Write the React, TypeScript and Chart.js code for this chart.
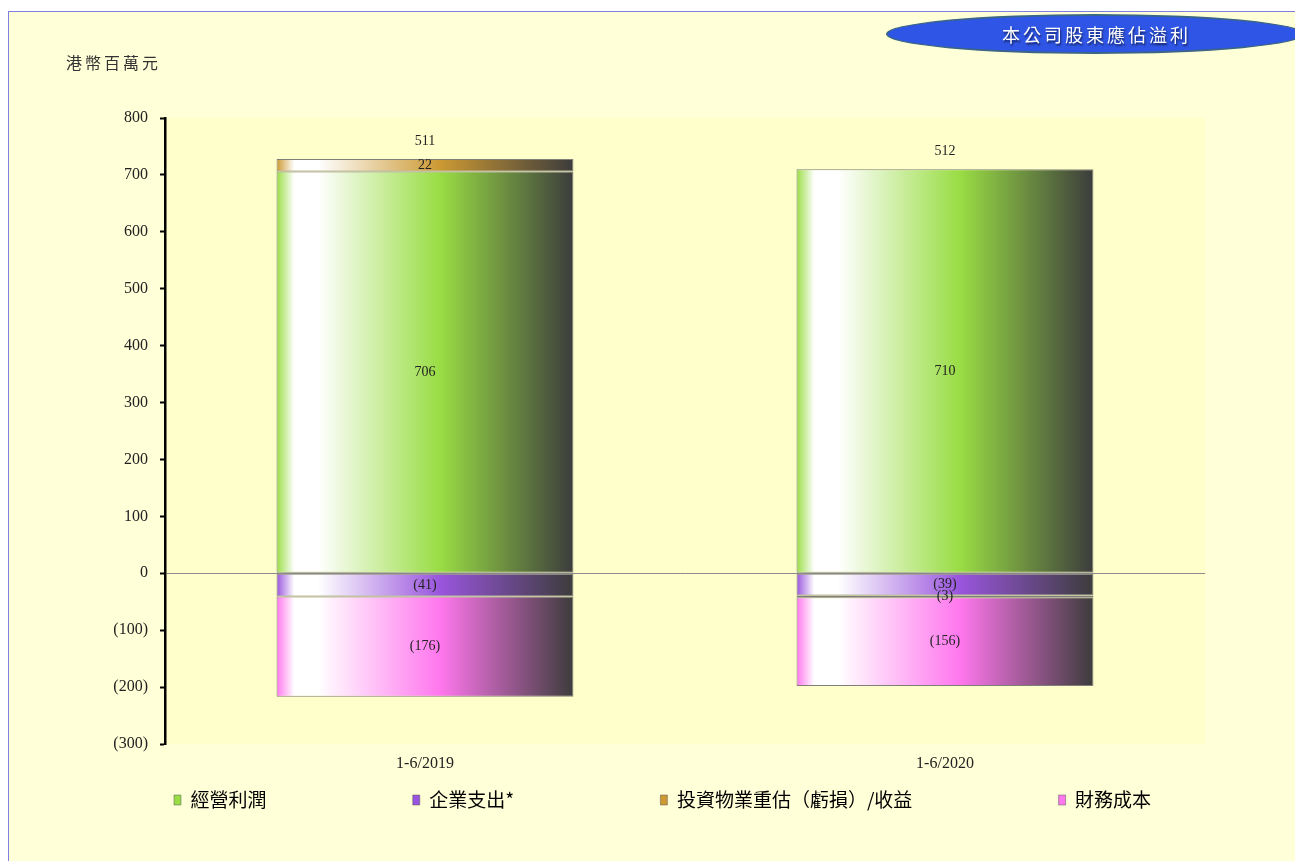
import React, { useEffect, useRef } from 'react';
import { Chart, registerables } from 'chart.js';

Chart.register(...registerables);

// ---------- data ----------
const categories = ['1-6/2019', '1-6/2020'];
const seriesNames = ['經營利潤', '企業支出*', '投資物業重估（虧損）/收益', '財務成本'];
const operatingProfit = [706, 710];
const corporateExpenses = [-41, -39];
const propertyRevaluation = [22, -3];
const financeCosts = [-176, -156];
const totals = [511, 512];
const yMin = -300;
const yMax = 800;
const yStep = 100;
const unitLabel = '港幣百萬元';
const titleText = '本公司股東應佔溢利';

// ---------- styles ----------
const seriesColors = ['#99DD44', '#9955DD', '#CC9933', '#FF77EE'];
const OUTER_BG = '#FFFFD8';
const PLOT_BG = '#FFFFCC';
const SERIF = '"Liberation Serif", "Times New Roman", serif';
const CJK = '"Noto Sans CJK TC", "Noto Sans CJK SC", sans-serif';
const BAR_PCT = 0.571;
const LEGEND_GAP = '\u3000'.repeat(7) + ' ';

const fmt = (v: number) => (v < 0 ? `(${Math.abs(v)})` : `${v}`);

function barGradient(c: any, base: string) {
  const chart = c.chart;
  const xs = chart.scales && chart.scales.x;
  if (c.type !== 'data' || !xs || !chart.chartArea || !isFinite(xs.width)) return base;
  const center = xs.getPixelForValue(c.dataIndex);
  const half = ((xs.width / categories.length) * BAR_PCT) / 2;
  if (!isFinite(center) || !isFinite(half) || half <= 0) return base;
  const g = chart.ctx.createLinearGradient(center - half, 0, center + half, 0);
  g.addColorStop(0, base);
  g.addColorStop(0.06, '#ffffff');
  g.addColorStop(0.14, '#ffffff');
  g.addColorStop(0.55, base);
  g.addColorStop(1, '#3c3c3c');
  return g;
}

const plotBg = {
  id: 'plotBg',
  beforeDraw(chart: any) {
    const { ctx, chartArea: a } = chart;
    if (!a) return;
    ctx.save();
    ctx.fillStyle = PLOT_BG;
    ctx.fillRect(a.left, a.top, a.right - a.left, a.bottom - a.top);
    ctx.restore();
  },
};

const valueLabels = {
  id: 'valueLabels',
  afterDatasetsDraw(chart: any) {
    const ctx = chart.ctx;
    ctx.save();
    ctx.font = `14px ${SERIF}`;
    ctx.fillStyle = '#222';
    ctx.textAlign = 'center';
    ctx.textBaseline = 'middle';
    const tops: number[] = categories.map(() => Infinity);
    chart.data.datasets.forEach((ds: any, i: number) => {
      const meta = chart.getDatasetMeta(i);
      meta.data.forEach((el: any, j: number) => {
        const v = ds.data[j];
        const p = el.getProps(['x', 'y', 'base'], true);
        if (v > 0) tops[j] = Math.min(tops[j], p.y);
        ctx.fillText(fmt(v), p.x, (p.y + p.base) / 2);
      });
    });
    const meta0 = chart.getDatasetMeta(0);
    totals.forEach((t, j) => {
      const el = meta0.data[j];
      if (!el) return;
      ctx.fillText(fmt(t), el.x, tops[j] - 18);
    });
    ctx.restore();
  },
};

export default function App() {
  const ref = useRef<HTMLCanvasElement>(null);

  useEffect(() => {
    const canvas = ref.current;
    if (!canvas) return;
    const seriesData = [operatingProfit, corporateExpenses, propertyRevaluation, financeCosts];
    const datasets = seriesData.map((data, i) => ({
      label: seriesNames[i],
      data,
      backgroundColor: (c: any) => barGradient(c, seriesColors[i]),
      borderColor: 'rgba(105,105,105,0.85)',
      borderWidth: 1,
      borderSkipped: false,
      stack: 's',
      barPercentage: BAR_PCT,
      categoryPercentage: 1,
    }));

    const chart = new Chart(canvas, {
      type: 'bar',
      data: { labels: categories, datasets },
      options: {
        responsive: false,
        animation: false,
        devicePixelRatio: 1,
        layout: { padding: { left: 86, right: 90, top: 106, bottom: 41.5 } },
        scales: {
          x: {
            stacked: true,
            grid: { display: false, drawTicks: false },
            border: { display: false },
            ticks: { padding: 10, color: '#222', font: { family: SERIF, size: 16 } },
            afterFit: (s: any) => {
              s.height = 37.5;
            },
          },
          y: {
            stacked: true,
            min: yMin,
            max: yMax,
            ticks: {
              stepSize: yStep,
              padding: 12,
              color: '#222',
              font: { family: SERIF, size: 16 },
              callback: (v: any) => fmt(Number(v)),
            },
            grid: {
              color: (c: any) => (c.tick && c.tick.value === 0 ? '#8c8c8c' : 'rgba(0,0,0,0)'),
              lineWidth: 1,
              tickColor: '#000',
              tickWidth: 2,
              tickLength: 5,
              drawOnChartArea: true,
            },
            border: { color: '#000', width: 2.5 },
            afterFit: (s: any) => {
              s.width = 70;
            },
          },
        },
        plugins: {
          legend: {
            position: 'bottom',
            fullSize: false,
            align: 'start',
            labels: {
              boxWidth: 7,
              boxHeight: 10,
              padding: 9,
              color: '#333',
              font: { family: CJK, size: 19 },
              generateLabels: () =>
                seriesNames.map((name, i) => ({
                  text: i < seriesNames.length - 1 ? name + LEGEND_GAP : name,
                  fillStyle: seriesColors[i],
                  strokeStyle: '#555',
                  lineWidth: 0.5,
                  datasetIndex: i,
                  hidden: false,
                })),
            },
          },
          tooltip: { enabled: false },
        },
      } as any,
      plugins: [plotBg, valueLabels],
    });
    return () => chart.destroy();
  }, []);

  return (
    <div
      style={{
        position: 'fixed',
        left: 8,
        top: 11,
        width: 1286,
        height: 849,
        borderTop: '1px solid #8080E0',
        borderLeft: '1px solid #8080E0',
        background: OUTER_BG,
        overflow: 'hidden',
      }}
    >
      <canvas ref={ref} width={1286} height={849} style={{ position: 'absolute', left: 0, top: 0 }} />
      <div
        style={{
          position: 'absolute',
          left: 57,
          top: 39,
          fontFamily: CJK,
          fontSize: 16,
          lineHeight: '22px',
          letterSpacing: 3,
          color: '#333',
        }}
      >
        {unitLabel}
      </div>
      <div
        style={{
          position: 'absolute',
          left: 877,
          top: 2,
          width: 418,
          height: 40,
          boxSizing: 'border-box',
          borderRadius: '50%',
          background: '#2F55E6',
          border: '2px solid #3B6585',
          display: 'flex',
          alignItems: 'center',
          justifyContent: 'center',
          paddingLeft: 3,
          fontFamily: CJK,
          fontSize: 18,
          letterSpacing: 3,
          color: '#ffffff',
          textShadow: '1px 2px 2px rgba(0,0,0,0.6)',
        }}
      >
        {titleText}
      </div>
    </div>
  );
}
